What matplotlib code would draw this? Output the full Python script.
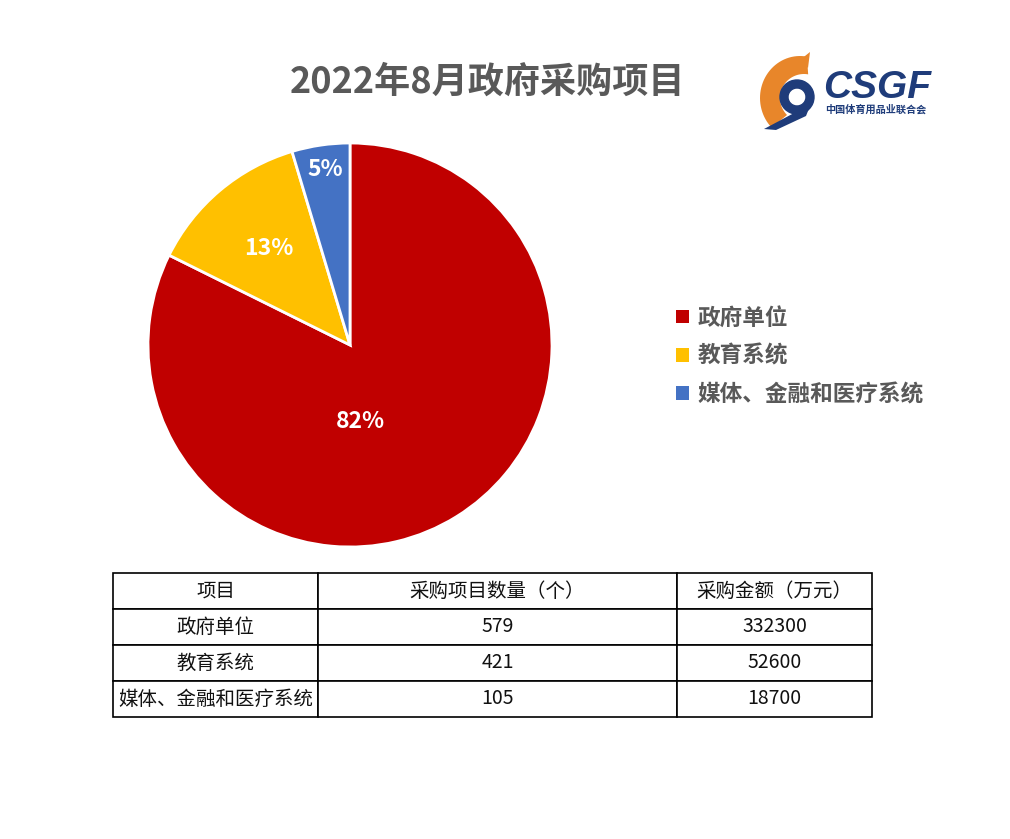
import numpy as np
import matplotlib.pyplot as plt
from matplotlib.patches import Wedge, Polygon

plt.rcParams['font.family'] = ['Noto Sans CJK SC', 'DejaVu Sans']

# data
title = '2022年8月政府采购项目'
categories = ['政府单位', '教育系统', '媒体、金融和医疗系统']
counts = [579, 421, 105]
amounts = [332300, 52600, 18700]
pct_labels = ['82%', '13%', '5%']
col_labels = ['项目', '采购项目数量（个）', '采购金额（万元）']
colors = ['#C00000', '#FFC000', '#4472C4']

W, H = 1010, 839
fig = plt.figure(figsize=(W / 100, H / 100), dpi=100)
fig.patch.set_facecolor('white')


def px_axes(x0, y0, x1, y1):
    """axes from pixel box (top-left origin)"""
    return fig.add_axes([x0 / W, 1 - y1 / H, (x1 - x0) / W, (y1 - y0) / H])


# title
fig.text(488 / W, 1 - 82 / H, title, ha='center', va='center',
         fontsize=26, fontweight='bold', color='#595959')

# pie
ax = px_axes(148, 143, 552, 547)
wedges, texts, autotexts = ax.pie(
    amounts, colors=colors, startangle=90, counterclock=False,
    autopct='%1.0f%%', pctdistance=0.62,
    wedgeprops=dict(edgecolor='white', linewidth=2))
label_pos = [(0.05, -0.38), (-0.40, 0.48), (-0.12, 0.87)]
for t, lab, pos in zip(autotexts, pct_labels, label_pos):
    t.set_text(lab)
    t.set_position(pos)
    t.set_color('white')
    t.set_fontsize(16.5)
    t.set_fontweight('bold')
ax.set_xlim(-1, 1)
ax.set_ylim(-1, 1)
ax.set_aspect('equal')

# legend
leg = fig.legend(wedges, categories, loc='upper left',
                 bbox_to_anchor=(656 / W, 1 - 286 / H), frameon=False,
                 handlelength=0.55, handleheight=0.55, handletextpad=0.4,
                 labelspacing=0.68, prop=dict(size=16.3, weight='bold'))
for txt in leg.get_texts():
    txt.set_color('#595959')
for h in leg.legend_handles:
    h.set_edgecolor('none')

# table
tax = px_axes(113, 573, 872, 717)
tax.axis('off')
rows = [[c, str(n), str(a)] for c, n, a in zip(categories, counts, amounts)]
widths = np.array([205, 359, 195]) / 759
tbl = tax.table(cellText=rows, colLabels=col_labels, colWidths=widths,
                cellLoc='center', bbox=[0, 0, 1, 1])
tbl.auto_set_font_size(False)
for (r, c), cell in tbl.get_celld().items():
    cell.set_linewidth(1.2)
    cell.set_edgecolor('black')
    cell.get_text().set_fontsize(14)
    cell.get_text().set_color('#111111')

# logo
lax = px_axes(745, 40, 945, 140)
lax.set_xlim(745, 945)
lax.set_ylim(140, 40)
lax.axis('off')
navy = '#1F3C7A'
orange = '#E8862A'
# orange swoosh
th = np.linspace(np.deg2rad(80), np.deg2rad(225), 40)
outer = np.c_[800 + 40 * np.cos(th), 98 - 42 * np.sin(th)]
inner = np.c_[804 + 24 * np.cos(th[::-1]), 98 - 24 * np.sin(th[::-1])]
lax.add_patch(Polygon(np.r_[outer, inner], closed=True, color=orange, lw=0))
lax.add_patch(Polygon([[800, 60], [810, 52], [808, 68]], closed=True, color=orange, lw=0))
# navy swirl
lax.add_patch(Wedge((797, 97), 17, 0, 360, width=8, color=navy))
lax.add_patch(Polygon([[814, 96], [806, 116], [776, 130], [764, 129], [796, 112]],
                      closed=True, color=navy, lw=0))
lax.text(823, 88, 'CSGF', fontsize=28, fontweight='bold', fontstyle='italic',
         color=navy, family=['Liberation Sans'], va='center', ha='left')
lax.text(825, 110, '中国体育用品业联合会', fontsize=7.3, fontweight='bold',
         color=navy, va='center', ha='left')

fig.savefig('out.png', dpi=100, facecolor='white')
